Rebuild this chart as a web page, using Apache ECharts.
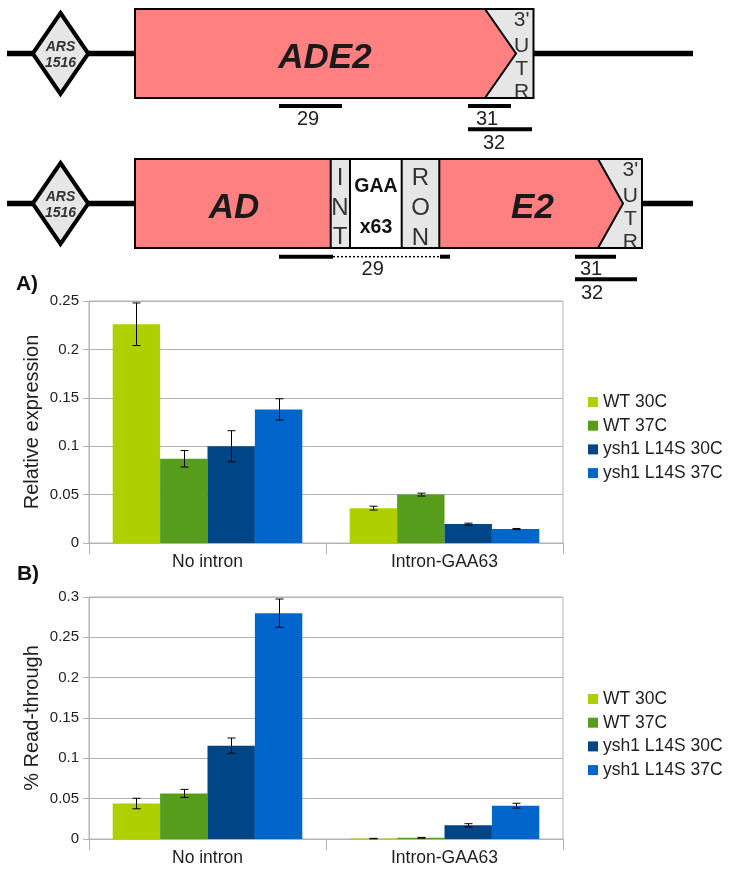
<!DOCTYPE html>
<html>
<head>
<meta charset="utf-8">
<script src="https://cdn.jsdelivr.net/npm/echarts@6/dist/echarts.min.js"></script>
<style>
html,body{margin:0;padding:0;background:#fff;}
#c{width:729px;height:874px;}
</style>
</head>
<body>
<div id="c"></div>
<script>
// ---------- data ----------
const categories = ['No intron', 'Intron-GAA63'];
const seriesNames = ['WT 30C', 'WT 37C', 'ysh1 L14S 30C', 'ysh1 L14S 37C'];
const seriesColors = ['#aecf00', '#579d1c', '#004586', '#0066cc'];

// A) Relative expression
const exprWT30 = [0.226, 0.036];
const exprWT37 = [0.087, 0.050];
const exprYsh30 = [0.100, 0.0195];
const exprYsh37 = [0.138, 0.0144];
const exprErrWT30 = [0.022, 0.002];
const exprErrWT37 = [0.0085, 0.0015];
const exprErrYsh30 = [0.016, 0.001];
const exprErrYsh37 = [0.011, 0.0006];
const exprAxisMax = 0.25;

// B) % Read-through
const rtWT30 = [0.044, 0.0005];
const rtWT37 = [0.0565, 0.0015];
const rtYsh30 = [0.1157, 0.017];
const rtYsh37 = [0.280, 0.0413];
const rtErrWT30 = [0.0065, 0.0003];
const rtErrWT37 = [0.005, 0.0005];
const rtErrYsh30 = [0.0095, 0.002];
const rtErrYsh37 = [0.0175, 0.003];
const rtAxisMax = 0.3;
const axisInterval = 0.05;

// ---------- chart ----------
const FONT = 'Liberation Sans, Arial, sans-serif';
const GRID_GRAY = '#b3b3b3';
const TXT = '#1e1e1e';

const exprVals = [exprWT30, exprWT37, exprYsh30, exprYsh37];
const exprErrs = [exprErrWT30, exprErrWT37, exprErrYsh30, exprErrYsh37];
const rtVals = [rtWT30, rtWT37, rtYsh30, rtYsh37];
const rtErrs = [rtErrWT30, rtErrWT37, rtErrYsh30, rtErrYsh37];

const BAR_CAT_GAP = 0.2;

function errRenderer(idx) {
  return function (params, api) {
    const cat = api.value(0), v = api.value(1), e = api.value(2);
    const base = api.coord([cat, v]);
    const band = api.size([1, 0])[0];
    const bw = band * (1 - BAR_CAT_GAP) / 4;
    const cx = Math.round(base[0] + (idx - 1.5) * bw) + 0.5;
    const yT = api.coord([cat, v + e])[1];
    const yB = api.coord([cat, Math.max(0, v - e)])[1];
    const st = { stroke: '#000', lineWidth: 1 };
    return {
      type: 'group',
      children: [
        { type: 'line', shape: { x1: cx, y1: yT, x2: cx, y2: yB }, style: st },
        { type: 'line', shape: { x1: cx - 4, y1: yT, x2: cx + 4, y2: yT }, style: st },
        { type: 'line', shape: { x1: cx - 4, y1: yB, x2: cx + 4, y2: yB }, style: st }
      ]
    };
  };
}

function buildSeries(vals, errs, gi) {
  const out = [];
  vals.forEach((arr, i) => {
    out.push({
      type: 'bar', name: seriesNames[i], xAxisIndex: gi, yAxisIndex: gi,
      data: arr, itemStyle: { color: seriesColors[i] },
      barGap: '0%', barCategoryGap: (BAR_CAT_GAP * 100) + '%', z: 2
    });
  });
  vals.forEach((arr, i) => {
    out.push({
      type: 'custom', name: 'err' + gi + '_' + i, xAxisIndex: gi, yAxisIndex: gi,
      renderItem: errRenderer(i),
      data: arr.map((v, k) => [k, v, errs[i][k]]), z: 5, silent: true
    });
  });
  return out;
}

function xAxisCfg(gi) {
  return {
    type: 'category', gridIndex: gi, data: categories,
    axisLine: { lineStyle: { color: GRID_GRAY } },
    axisTick: { show: true, length: 11, lineStyle: { color: GRID_GRAY } },
    axisLabel: { fontSize: 17.5, fontFamily: FONT, color: TXT, margin: 10 },
    splitLine: { show: false }
  };
}
function yAxisCfg(gi, max, name) {
  return {
    type: 'value', gridIndex: gi, min: 0, max: max, interval: axisInterval,
    name: name, nameLocation: 'middle', nameGap: 47, nameMoveOverlap: false,
    nameTextStyle: { fontSize: 20, fontFamily: FONT, color: TXT },
    axisLine: { show: true, lineStyle: { color: GRID_GRAY } },
    axisTick: { show: true, length: 6, lineStyle: { color: GRID_GRAY } },
    axisLabel: { fontSize: 15, fontFamily: FONT, color: TXT, margin: 10 },
    splitLine: { show: true, lineStyle: { color: GRID_GRAY, width: 1 } }
  };
}
function legendCfg(top) {
  return {
    orient: 'vertical', left: 583, top: top, data: seriesNames,
    icon: 'rect', itemWidth: 10, itemHeight: 10, itemGap: 5.7,
    textStyle: { fontSize: 17.5, fontFamily: FONT, color: TXT, lineHeight: 18 },
    selectedMode: false
  };
}

// ---------- schematic (illustration) ----------
const PINK = '#ff8080', LGRAY = '#e6e6e6';
function T(text, x, y, size, opts) {
  opts = opts || {};
  return {
    type: 'text', z: 20,
    style: {
      text: text, x: x, y: y, fill: opts.fill || TXT, fontSize: size,
      fontFamily: FONT, fontWeight: opts.weight || 'normal',
      fontStyle: opts.style || 'normal', align: 'center', verticalAlign: 'middle'
    }
  };
}
function L(x1, y1, x2, y2, w, dash, z) {
  return { type: 'line', z: z || 15, shape: { x1, y1, x2, y2 },
    style: { stroke: '#000', lineWidth: w, lineDash: dash || null } };
}
function diamond(cy) {
  return [
    { type: 'polygon', z: 12, shape: { points: [[60.5, cy - 40.5], [88.3, cy], [60.5, cy + 40.5], [32.7, cy]] },
      style: { fill: LGRAY, stroke: '#000', lineWidth: 4, lineJoin: 'miter' } },
    T('ARS', 60.5, cy - 6.5, 14, { weight: 'bold', style: 'italic', fill: '#333' }),
    T('1516', 60.5, cy + 9.5, 14, { weight: 'bold', style: 'italic', fill: '#333' })
  ];
}
function utr(xc, top) {
  return [
    T("3'", xc, top + 11, 21, { fill: '#333' }),
    T('U', xc, top + 37, 21, { fill: '#333' }),
    T('T', xc, top + 60, 21, { fill: '#333' }),
    T('R', xc, top + 83, 21, { fill: '#333' })
  ];
}

const g = [];
// row 1
(function () {
  const cy = 53.5, top = 9, bot = 98, left = 135, right = 533.5;
  g.push(L(7, cy, 693, cy, 5.5, null, 5));
  g.push(...diamond(cy));
  g.push({ type: 'rect', z: 13, shape: { x: left, y: top, width: right - left, height: bot - top }, style: { fill: LGRAY } });
  g.push({ type: 'polygon', z: 14, shape: { points: [[left, top], [485, top], [516, cy], [485, bot], [left, bot]] }, style: { fill: PINK } });
  g.push({ type: 'polyline', z: 15, shape: { points: [[485, top], [516, cy], [485, bot]] }, style: { stroke: '#000', lineWidth: 2, fill: null } });
  g.push(...utr(521.7, top));
  g.push({ type: 'rect', z: 21, shape: { x: left, y: top, width: right - left, height: bot - top }, style: { fill: null, stroke: '#000', lineWidth: 2 } });
  g.push(T('ADE2', 325, 58, 35, { weight: 'bold', style: 'italic', fill: '#1a1a1a' }));
  g.push(L(279, 106, 342, 106, 4));
  g.push(T('29', 308, 119.5, 20));
  g.push(L(468, 106, 511, 106, 4));
  g.push(T('31', 487, 119, 20));
  g.push(L(468, 129.3, 532, 129.3, 4));
  g.push(T('32', 494, 143, 20));
})();
// row 2
(function () {
  const cy = 203.5, top = 159, bot = 248, left = 135, right = 642;
  g.push(L(7, cy, 693, cy, 5.5, null, 5));
  g.push(...diamond(cy));
  g.push({ type: 'rect', z: 13, shape: { x: left, y: top, width: right - left, height: bot - top }, style: { fill: LGRAY } });
  g.push({ type: 'rect', z: 14, shape: { x: left, y: top, width: 330.7 - left, height: bot - top }, style: { fill: PINK } });
  g.push({ type: 'rect', z: 14, shape: { x: 350, y: top, width: 401.7 - 350, height: bot - top }, style: { fill: '#fff' } });
  g.push({ type: 'polygon', z: 14, shape: { points: [[439.3, top], [598, top], [623, cy], [598, bot], [439.3, bot]] }, style: { fill: PINK } });
  g.push({ type: 'polyline', z: 15, shape: { points: [[598, top], [623, cy], [598, bot]] }, style: { stroke: '#000', lineWidth: 2, fill: null } });
  [330.7, 350, 401.7, 439.3].forEach(x => g.push(L(x, top, x, bot, 2)));
  g.push(T('I', 340, 178, 24, { fill: '#333' }));
  g.push(T('N', 340, 208, 24, { fill: '#333' }));
  g.push(T('T', 340, 237, 24, { fill: '#333' }));
  g.push(T('GAA', 376, 187, 19.5, { weight: 'bold', fill: '#111' }));
  g.push(T('x63', 376, 227.5, 19.5, { weight: 'bold', fill: '#111' }));
  g.push(T('R', 420.5, 178, 24, { fill: '#333' }));
  g.push(T('O', 420.5, 208, 24, { fill: '#333' }));
  g.push(T('N', 420.5, 238, 24, { fill: '#333' }));
  g.push(...utr(630.4, top));
  g.push({ type: 'rect', z: 21, shape: { x: left, y: top, width: right - left, height: bot - top }, style: { fill: null, stroke: '#000', lineWidth: 2 } });
  g.push(T('AD', 234, 208, 35, { weight: 'bold', style: 'italic', fill: '#1a1a1a' }));
  g.push(T('E2', 532.5, 208, 35, { weight: 'bold', style: 'italic', fill: '#1a1a1a' }));
  g.push(L(279, 256.7, 333, 256.7, 4));
  g.push(L(333, 256.7, 440, 256.7, 1.5, [2, 2]));
  g.push(L(440, 256.7, 450, 256.7, 4));
  g.push(T('29', 372.7, 269.5, 20));
  g.push(L(575, 256.7, 616, 256.7, 4));
  g.push(T('31', 591, 269, 20));
  g.push(L(575, 279.3, 637, 279.3, 4));
  g.push(T('32', 592, 293.5, 20));
})();
// panel labels
g.push(T('A)', 27, 284.5, 21, { weight: 'bold', fill: '#111' }));
g.push(T('B)', 28, 574.5, 21, { weight: 'bold', fill: '#111' }));

const chart = echarts.init(document.getElementById('c'), null, { renderer: 'canvas' });
chart.setOption({
  animation: false,
  backgroundColor: '#fff',
  grid: [
    { left: 89, top: 301, width: 474, height: 242, show: true, borderColor: GRID_GRAY, borderWidth: 1, backgroundColor: 'transparent' },
    { left: 89, top: 597, width: 474, height: 242, show: true, borderColor: GRID_GRAY, borderWidth: 1, backgroundColor: 'transparent' }
  ],
  xAxis: [xAxisCfg(0), xAxisCfg(1)],
  yAxis: [yAxisCfg(0, exprAxisMax, 'Relative expression'), yAxisCfg(1, rtAxisMax, '% Read-through')],
  legend: [legendCfg(388), legendCfg(685)],
  series: [].concat(buildSeries(exprVals, exprErrs, 0), buildSeries(rtVals, rtErrs, 1)),
  graphic: { elements: g }
});
</script>
</body>
</html>
